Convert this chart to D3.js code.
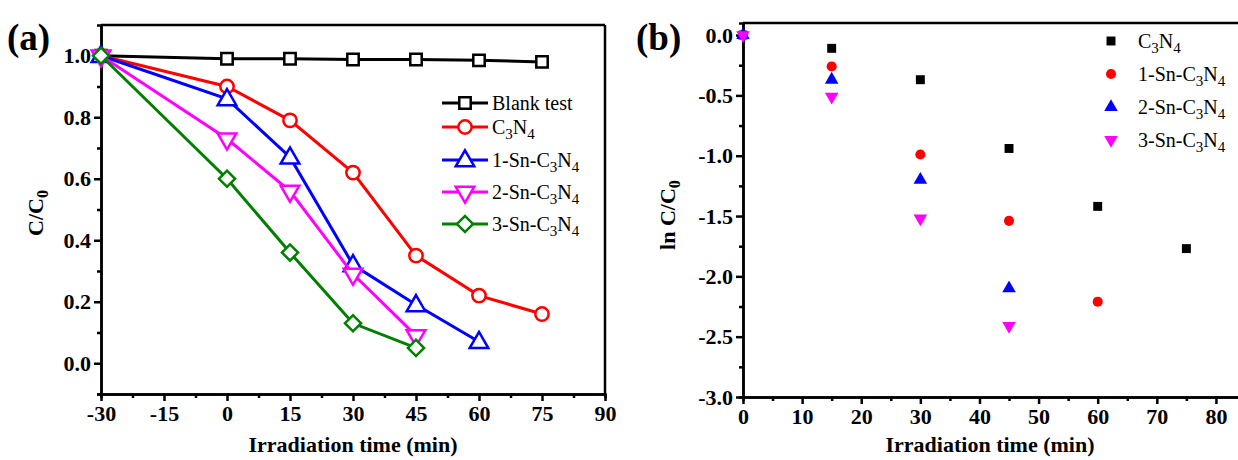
<!DOCTYPE html>
<html lang="en">
<head>
<meta charset="UTF-8" />
<title>Photocatalytic degradation</title>
<script src="https://d3js.org/d3.v7.min.js"></script>
<style>
  body { margin: 0; background: #fff; }
  svg { display: block; font-family: "Liberation Serif", "Times New Roman", serif; }
</style>
</head>
<body>
<svg id="chart" width="1238" height="460"></svg>
<script>
// ---- data, panel (a) ----
const timesA = [-30, 0, 15, 30, 45, 60, 75]
const blankTest = [1.0, 0.99, 0.99, 0.988, 0.988, 0.985, 0.98]
const c3n4A = [1.0, 0.90, 0.79, 0.62, 0.35, 0.22, 0.16]
const sn1A = [1.0, 0.86, 0.67, 0.32, 0.19, 0.07]
const sn2A = [1.0, 0.73, 0.56, 0.29, 0.09]
const sn3A = [1.0, 0.60, 0.36, 0.13, 0.05]
const xTicksA = [-30, -15, 0, 15, 30, 45, 60, 75, 90]
const yTicksA = [0.0, 0.2, 0.4, 0.6, 0.8, 1.0]

// ---- data, panel (b) ----
const timesB = [0, 15, 30, 45, 60, 75]
const c3n4B = [0, -0.11, -0.37, -0.94, -1.42, -1.77]
const sn1B = [0, -0.26, -0.99, -1.54, -2.21]
const sn2B = [0, -0.37, -1.20, -2.10]
const sn3B = [0, -0.51, -1.52, -2.41]
const xTicksB = [0, 10, 20, 30, 40, 50, 60, 70, 80]
const yTicksB = [0.0, -0.5, -1.0, -1.5, -2.0, -2.5, -3.0]

const svg = d3.select("#chart")

// text with chemical subscripts (digit after a letter)
function richText(sel, str, subSize) {
  let prevSub = false
  str.split(/(?<=[A-Za-z])(?=[0-9])|(?<=[0-9])(?=[A-Za-z\-\/])/).forEach((p, i, arr) => {
    const isSub = /^[0-9]+$/.test(p) && i > 0 && /[A-Za-z]$/.test(arr[i - 1])
    const t = sel.append("tspan").text(p)
    if (isSub) { t.attr("font-size", subSize).attr("dy", 5) }
    else if (prevSub) { t.attr("dy", -5) }
    prevSub = isSub
  })
}

// plain hyphen minus like the original figure
const hyph = f => d => f(d).replace("\u2212", "-")

function drawFrame(g, x, y, xTicks, yTicks, xMinor, yMinor, fmtY, drawRight) {
  const [x0, x1] = x.range()
  const [y0, y1] = y.range()
  g.append("g").attr("transform", `translate(0,${y0})`)
    .call(d3.axisBottom(x).tickValues(xMinor).tickSize(4).tickFormat(""))
  g.append("g").attr("transform", `translate(${x0},0)`)
    .call(d3.axisLeft(y).tickValues(yMinor).tickSize(4).tickFormat(""))
  g.append("g").attr("transform", `translate(0,${y0})`)
    .call(d3.axisBottom(x).tickValues(xTicks).tickSize(7).tickSizeOuter(0).tickPadding(4).tickFormat(hyph(d3.format("d"))))
  g.append("g").attr("transform", `translate(${x0},0)`)
    .call(d3.axisLeft(y).tickValues(yTicks).tickSize(7).tickSizeOuter(0).tickPadding(3).tickFormat(hyph(fmtY)))
  g.selectAll(".domain, .tick line").attr("stroke", "#000").attr("stroke-width", 2.5)
  g.selectAll(".tick text").attr("font-family", "Liberation Serif").attr("font-weight", "bold")
    .attr("font-size", 22).attr("fill", "#000")
  g.append("line").attr("x1", x0).attr("x2", x1).attr("y1", y1).attr("y2", y1)
    .attr("stroke", "#000").attr("stroke-width", 2.5)
  if (drawRight) {
    g.append("line").attr("x1", x1).attr("x2", x1).attr("y1", y1).attr("y2", y0)
      .attr("stroke", "#000").attr("stroke-width", 2.5)
  }
}

// ================= panel (a) =================
{
  const x = d3.scaleLinear().domain([-30, 90]).range([101, 605])
  const y = d3.scaleLinear().domain([-0.1, 1.1]).range([394, 25])
  const g = svg.append("g")
  drawFrame(g, x, y, xTicksA, yTicksA,
    d3.range(-22.5, 90, 15), d3.range(-0.1, 1.05, 0.2).map(v => +v.toFixed(1)), d3.format(".1f"), true)

  const series = [
    { name: "Blank test", vals: blankTest, color: "#000000", shape: "square" },
    { name: "C3N4", vals: c3n4A, color: "#ff0000", shape: "circle" },
    { name: "1-Sn-C3N4", vals: sn1A, color: "#0000ff", shape: "up" },
    { name: "2-Sn-C3N4", vals: sn2A, color: "#ff00ff", shape: "down" },
    { name: "3-Sn-C3N4", vals: sn3A, color: "#008000", shape: "diamond" }
  ]
  const symType = { square: d3.symbolSquare, circle: d3.symbolCircle, up: d3.symbolTriangle, down: d3.symbolTriangle, diamond: d3.symbolSquare }
  const symSize = { square: 130, circle: 140, up: 150, down: 150, diamond: 130 }
  const markerPath = (s) => d3.symbol().type(symType[s]).size(symSize[s])()
  const markerTf = (s) => s === "down" ? " rotate(180)" : (s === "diamond" ? " rotate(45)" : (s === "up" ? " translate(0,1)" : ""))

  const line = d3.line().x((d, i) => x(timesA[i])).y(d => y(d))
  series.forEach(s => {
    g.append("path").datum(s.vals).attr("d", line)
      .attr("fill", "none").attr("stroke", s.color).attr("stroke-width", 3)
    g.append("g").selectAll("path").data(s.vals).join("path")
      .attr("transform", (d, i) => `translate(${x(timesA[i])},${y(d)})${markerTf(s.shape)}`)
      .attr("d", markerPath(s.shape))
      .attr("fill", "#fff").attr("stroke", s.color).attr("stroke-width", 2.5)
  })

  // legend
  const rowsY = [103, 127, 160, 192, 224]
  series.forEach((s, i) => {
    const ly = rowsY[i]
    g.append("line").attr("x1", 442).attr("x2", 488).attr("y1", ly).attr("y2", ly)
      .attr("stroke", s.color).attr("stroke-width", 3)
    g.append("path").attr("transform", `translate(465,${ly})${markerTf(s.shape)}`)
      .attr("d", markerPath(s.shape))
      .attr("fill", "#fff").attr("stroke", s.color).attr("stroke-width", 2.5)
    const t = g.append("text").attr("x", 492).attr("y", ly + 7).attr("font-size", 20)
    richText(t, s.name, 15)
  })

  g.append("text").attr("x", 353).attr("y", 452).attr("text-anchor", "middle")
    .attr("font-weight", "bold").attr("font-size", 22).text("Irradiation time (min)")
  const yl = g.append("text").attr("transform", "translate(43,213) rotate(-90)")
    .attr("text-anchor", "middle").attr("font-weight", "bold").attr("font-size", 22)
  richText(yl, "C/C0", 16)
  g.append("text").attr("x", 7).attr("y", 50).attr("font-weight", "bold").attr("font-size", 37).text("(a)")
}

// ================= panel (b) =================
{
  const x = d3.scaleLinear().domain([0, 85]).range([743, 1245.5])
  const y = d3.scaleLinear().domain([-3, 0.1]).range([397, 23])
  const g = svg.append("g")
  drawFrame(g, x, y, xTicksB, yTicksB,
    d3.range(5, 85, 10), d3.range(-2.75, 0, 0.5), d3.format(".1f"), false)

  const series = [
    { name: "C3N4", vals: c3n4B, color: "#000000", type: d3.symbolSquare, size: 80, rot: 0 },
    { name: "1-Sn-C3N4", vals: sn1B, color: "#ff0000", type: d3.symbolCircle, size: 80, rot: 0 },
    { name: "2-Sn-C3N4", vals: sn2B, color: "#0000ff", type: d3.symbolTriangle, size: 80, rot: 0 },
    { name: "3-Sn-C3N4", vals: sn3B, color: "#ff00ff", type: d3.symbolTriangle, size: 80, rot: 180 }
  ]
  series.forEach(s => {
    g.append("g").selectAll("path").data(s.vals).join("path")
      .attr("transform", (d, i) => `translate(${x(timesB[i])},${y(d)}) rotate(${s.rot})`)
      .attr("d", d3.symbol().type(s.type).size(s.size)())
      .attr("fill", s.color)
  })

  const rowsY = [41, 74, 107, 140]
  series.forEach((s, i) => {
    const ly = rowsY[i]
    g.append("path").attr("transform", `translate(1111,${ly}) rotate(${s.rot})`)
      .attr("d", d3.symbol().type(s.type).size(s.size)()).attr("fill", s.color)
    const t = g.append("text").attr("x", 1138).attr("y", ly + 7).attr("font-size", 20)
    richText(t, s.name, 15)
  })

  g.append("text").attr("x", 990).attr("y", 452).attr("text-anchor", "middle")
    .attr("font-weight", "bold").attr("font-size", 22).text("Irradiation time (min)")
  const yl = g.append("text").attr("transform", "translate(675,215) rotate(-90)")
    .attr("text-anchor", "middle").attr("font-weight", "bold").attr("font-size", 22)
  richText(yl, "ln C/C0", 16)
  g.append("text").attr("x", 636).attr("y", 50).attr("font-weight", "bold").attr("font-size", 37).text("(b)")
}
</script>
</body>
</html>
